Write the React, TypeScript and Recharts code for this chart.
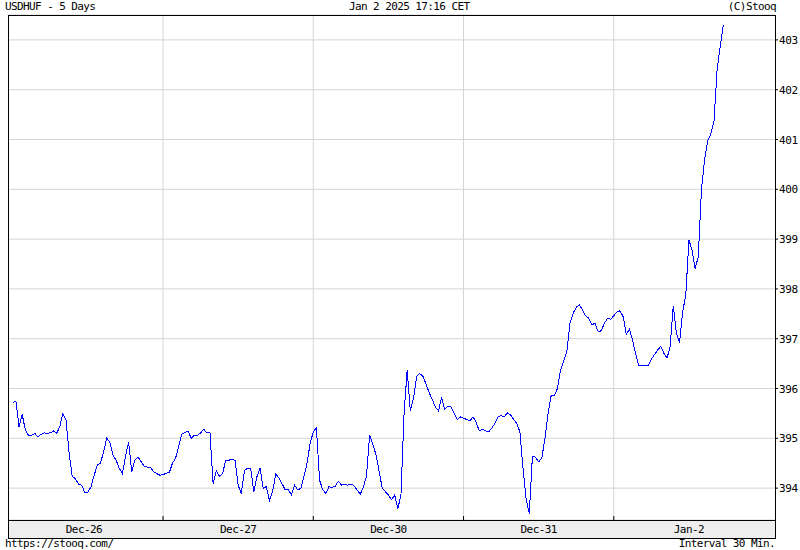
import { LineChart, Line, XAxis, YAxis, CartesianGrid, ReferenceLine } from "recharts";

// 30-minute closes, 48 slots per trading day
const dayLabels = ["Dec-26", "Dec-27", "Dec-30", "Dec-31", "Jan-2"];

const dec26 = [
  395.72, 395.75, 395.23, 395.48, 395.17, 395.06, 395.06, 395.1, 395.03, 395.08,
  395.11, 395.1, 395.11, 395.15, 395.1, 395.23, 395.5, 395.37, 394.7, 394.23,
  394.19, 394.08, 394.06, 393.91, 393.92, 394.03, 394.26, 394.46, 394.5, 394.73,
  395.0, 394.93, 394.66, 394.56, 394.4, 394.29, 394.63, 394.93, 394.33, 394.56,
  394.63, 394.53, 394.44, 394.42, 394.41, 394.33, 394.29, 394.26,
];
const dec27 = [
  394.27, 394.3, 394.31, 394.5, 394.6, 394.84, 395.08, 395.12, 395.15, 395.0,
  395.06, 395.06, 395.11, 395.18, 395.11, 395.11, 394.09, 394.35, 394.24, 394.29,
  394.55, 394.56, 394.58, 394.56, 394.06, 393.89, 394.35, 394.4, 394.39, 393.93,
  394.23, 394.4, 394.0, 394.03, 393.75, 393.93, 394.28, 394.21, 394.09, 393.97,
  393.97, 393.87, 394.06, 393.97, 393.99, 394.23, 394.5, 394.9,
];
const dec30 = [
  395.13, 395.21, 394.16, 393.97, 393.89, 394.03, 394.01, 394.04, 394.14, 394.06,
  394.08, 394.06, 394.08, 394.05, 393.96, 393.88, 394.02, 394.24, 395.06, 394.88,
  394.68, 394.35, 394.01, 393.93, 393.86, 393.77, 393.86, 393.59, 393.85, 395.5,
  396.37, 395.55, 395.8, 396.24, 396.3, 396.25, 396.09, 395.92, 395.78, 395.63,
  395.55, 395.82, 395.58, 395.65, 395.63, 395.51, 395.37, 395.43,
];
const dec31 = [
  395.4, 395.38, 395.35, 395.43, 395.33, 395.15, 395.18, 395.15, 395.13, 395.2,
  395.3, 395.43, 395.46, 395.43, 395.51, 395.47, 395.38, 395.3, 395.13, 394.4,
  393.77, 393.49, 394.64, 394.62, 394.53, 394.6, 395.0, 395.5, 395.86, 395.86,
  396.0, 396.37, 396.56, 396.74, 397.31, 397.51, 397.63, 397.68, 397.58, 397.46,
  397.41, 397.28, 397.31, 397.14, 397.16, 397.31, 397.41, 397.39,
];
const jan2 = [
  397.46, 397.54, 397.56, 397.44, 397.09, 397.19, 396.97, 396.69, 396.46, 396.46,
  396.46, 396.47, 396.59, 396.68, 396.77, 396.85, 396.71, 396.61, 396.84, 397.66,
  397.11, 396.92, 397.54, 397.88, 398.98, 398.78, 398.41, 398.65, 399.99, 400.59,
  400.97, 401.11, 401.36, 402.4, 402.87, 403.3,
];

const yTicks = [394, 395, 396, 397, 398, 399, 400, 401, 402, 403];
const dayStarts = [48, 96, 144, 192];
const dayMids = [24, 72, 120, 168, 216];

const SLOTS = 48;
const data = [dec26, dec27, dec30, dec31, jan2]
  .flat()
  .map((v, i) => ({ i, v }));

const font = "'DejaVu Sans Mono', monospace";

const BottomTick = (props: any) => {
  const { x, y, payload } = props;
  const v = payload.value;
  if (v % SLOTS === 0) {
    return <line x1={x} x2={x} y1={y - 4} y2={y} stroke="#000" />;
  }
  const day = Math.floor(v / SLOTS);
  // first day is cut by the left edge, its label sits a bit further left
  return (
    <text
      x={day === 0 ? x - 4 : x}
      y={y + 13}
      textAnchor="middle"
      fontSize={11}
      fontFamily={font}
      letterSpacing={-0.6}
      fill="#000"
    >
      {dayLabels[day]}
    </text>
  );
};

const TopTick = (props: any) => {
  const { x, y } = props;
  return <line x1={x} x2={x} y1={y} y2={y + 4} stroke="#000" />;
};

const RightTick = (props: any) => {
  const { x, y, payload } = props;
  return (
    <text
      x={x}
      y={y + 4}
      fontSize={11}
      fontFamily={font}
      letterSpacing={-0.4}
      fill="#000"
    >
      {payload.value}
    </text>
  );
};

const txt: React.CSSProperties = {
  position: "absolute",
  fontFamily: font,
  fontSize: 11,
  letterSpacing: -0.6,
  lineHeight: "12px",
  whiteSpace: "nowrap",
  color: "#000",
};

export default function App() {
  return (
    <div
      style={{
        position: "absolute",
        left: 0,
        top: 0,
        width: 800,
        height: 550,
        background: "#fff",
        overflow: "hidden",
      }}
    >
      <div style={{ ...txt, left: 5, top: 1 }}>USDHUF - 5 Days</div>
      <div style={{ ...txt, left: 349, top: 1 }}>Jan 2 2025 17:16 CET</div>
      <div style={{ ...txt, right: 24, top: 1 }}>(C)Stooq</div>

      <div
        style={{
          position: "absolute",
          left: 8,
          top: 520,
          width: 768,
          height: 19,
          boxSizing: "border-box",
          border: "1px solid #000",
          background: "#eeeeee",
        }}
      />

      <div style={{ position: "absolute", left: 0, top: 0 }}>
        <LineChart
          width={800}
          height={550}
          data={data}
          margin={{ top: 15, right: 0, bottom: 12, left: 8 }}
        >
          <CartesianGrid vertical={false} stroke="#d4d4d4" />
          {dayStarts.map((d) => (
            <ReferenceLine key={d} x={d} stroke="#d4d4d4" />
          ))}
          <XAxis
            dataKey="i"
            type="number"
            domain={[-1.53, 243.5]}
            allowDataOverflow
            ticks={[...dayMids, ...dayStarts].sort((a, b) => a - b)}
            interval={0}
            height={18}
            axisLine={false}
            tickLine={false}
            tickSize={0}
            tickMargin={0}
            tick={<BottomTick />}
          />
          <XAxis
            xAxisId="top"
            orientation="top"
            type="number"
            domain={[-1.53, 243.5]}
            allowDataOverflow
            ticks={dayStarts}
            interval={0}
            height={0}
            axisLine={false}
            tickLine={false}
            tickSize={0}
            tickMargin={0}
            tick={<TopTick />}
          />
          <YAxis
            orientation="right"
            type="number"
            domain={[393.36, 403.5]}
            allowDataOverflow
            ticks={yTicks}
            interval={0}
            width={25}
            axisLine={false}
            tickLine={{ stroke: "#000" }}
            tickSize={3}
            tickMargin={1}
            tick={<RightTick />}
          />
          <Line
            dataKey="v"
            type="linear"
            stroke="#0000ff"
            strokeWidth={1}
            shapeRendering="crispEdges"
            dot={false}
            isAnimationActive={false}
          />
        </LineChart>
      </div>

      <div
        style={{
          position: "absolute",
          left: 8,
          top: 15,
          width: 768,
          height: 506,
          boxSizing: "border-box",
          border: "1px solid #000",
          pointerEvents: "none",
        }}
      />

      <div style={{ ...txt, left: 5, top: 538 }}>https://stooq.com/</div>
      <div style={{ ...txt, right: 25, top: 538 }}>Interval 30 Min.</div>
    </div>
  );
}
